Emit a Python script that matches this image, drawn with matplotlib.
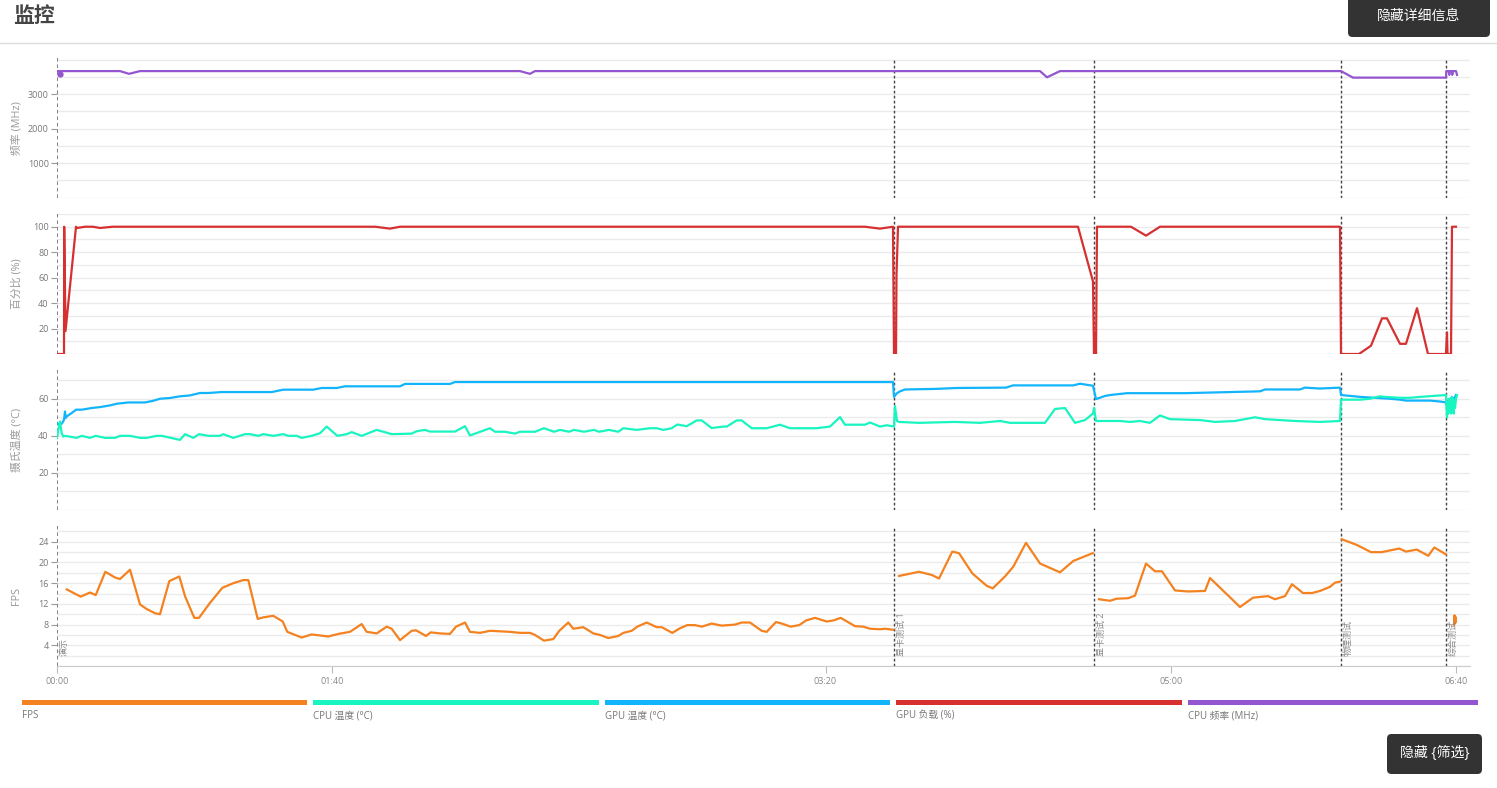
import numpy as np
import matplotlib
matplotlib.use("Agg")
import matplotlib.pyplot as plt
from matplotlib.patches import Rectangle, FancyBboxPatch
from matplotlib.transforms import blended_transform_factory

plt.rcParams['font.family'] = ['Open Sans', 'Noto Sans CJK SC', 'DejaVu Sans']

nan = np.nan

# ---------------- data (x = sample position along the run) ----------------
tick_pos = [0, 275, 768.5, 1114, 1399]
tick_labels = ["00:00", "01:40", "03:20", "05:00", "06:40"]

marker_x = [0, 837, 1037, 1284, 1389]
marker_labels = ["演示", "显卡测试 1", "显卡测试 2", "物理测试", "综合测试"]

freq_x = [0, 63, 72, 83, 463, 473, 478, 983, 990, 1003, 1284, 1296, 1389,
          1389.3, 1392, 1392.3, 1392.6, 1395, 1395.3, 1395.6, 1399, 1400]
freq_y = [3670, 3670, 3590, 3670, 3670, 3590, 3670, 3670, 3490, 3670, 3670, 3480, 3480,
          3670, 3670, 3560, 3670, 3670, 3560, 3670, 3670, 3560]
freq_start_x = [3]
freq_start_y = [3600]

load_x = [0, 7, 7.2, 8.5, 19, 20, 28, 36, 43, 49, 56, 318, 333, 343, 808, 823, 836,
          837, 839, 839.5, 841, 1021, 1036, 1037, 1038, 1038.5, 1039, 1040, 1074, 1089,
          1103, 1283, 1284, 1302, 1314, 1325, 1330, 1343, 1349, 1360, 1371, 1389, 1390,
          1390.5, 1394, 1395, 1399]
load_y = [0, 0, 100, 18, 100, 99, 100, 100, 99, 99.5, 100, 100, 98.5, 100, 100, 98.5, 100,
          0, 0, 62, 100, 100, 57, 0, 0, 15, 0, 100, 100, 93,
          100, 100, 0, 0, 6.5, 28, 28, 8, 8, 36, 0, 0, 17,
          0, 0, 100, 100]

gpu_t_x = [0, 4.7, 7, 8, 8.7, 9.7, 14.7, 19, 24.7, 34.7, 43, 53, 59.7, 71.3, 88, 96.3, 103,
           113, 123, 133, 143, 151.3, 164.7, 196, 214.7, 226.3, 256.3, 264.7, 279.7, 288,
           343, 348, 393, 398, 836, 837, 840, 843, 848, 878, 900, 949, 956, 1016, 1023,
           1036, 1039, 1048, 1053, 1070, 1128, 1203, 1208, 1243, 1248, 1263, 1283, 1284,
           1303, 1333, 1343, 1349, 1373, 1383, 1389, 1390, 1391, 1392, 1393, 1394, 1395,
           1396, 1397, 1399]
gpu_t_y = [46.5, 46.5, 48.6, 53.1, 49.6, 50.5, 52.3, 54.1, 54.1, 55, 55.5, 56.4, 57.3, 58,
           58, 58.9, 60, 60.4, 61.3, 61.8, 63.1, 63.1, 63.6, 63.6, 63.6, 64.9, 64.9, 65.8,
           65.8, 66.7, 66.7, 68, 68, 69, 69, 61, 63, 64, 65, 65.3, 65.8, 66, 67.2, 67.2,
           68.1, 67, 59.8, 61.5, 62, 63, 63, 64, 65, 65, 66, 65.5, 66, 62,
           61, 60, 59.5, 59, 59, 58.5, 58, 56, 59, 57, 60, 58, 61,
           59, 60, 62]

cpu_temp_points = [
    (0, 38.8), (1.3, 43.2), (3, 47.7), (4.7, 41.4), (6.3, 39.6), (8, 40), (19.7, 38.9),
    (24.7, 40), (33, 38.9), (38.7, 40), (48, 38.9), (58, 38.9), (63, 40), (73, 40),
    (83, 38.9), (89.7, 38.9), (99.7, 40), (104.7, 40), (123, 37.8), (128, 40.9),
    (136.3, 38.9), (142, 40.9), (151.3, 40), (163, 40), (166.3, 40.9), (176.3, 38.9),
    (188, 40.9), (193, 40.9), (201.3, 40), (206.3, 40.9), (216.3, 40), (226.3, 40.9),
    (231.3, 40), (239.7, 40), (244.7, 38.9), (254.7, 40), (263, 41.4), (269.7, 45),
    (280.3, 40), (289.7, 40.9), (294.7, 42), (304.7, 40), (319.7, 43.2), (334.7, 40.9),
    (354.7, 41.2), (359.7, 42.5), (368, 43.2), (373, 42.3), (398, 42.3), (408, 45.2),
    (413, 40.2), (433, 44.1), (438, 42.2), (448, 42.2), (458, 41.2), (463, 42.2),
    (478, 42.2), (487, 44.1), (497, 42.2), (503, 43.2), (512, 42.2), (517, 43.2),
    (527, 42.2), (537, 43.2), (542, 42.2), (552, 43.2), (561.3, 42.2), (566.3, 44.1),
    (579.7, 43.2), (593, 44.1), (599.7, 44.1), (606.3, 43.2), (614.7, 44.1),
    (620.3, 46.1), (629.7, 45.2), (639.7, 48.3), (644.7, 48.3), (654.7, 44.2),
    (666.3, 45), (669.7, 45), (679.7, 48.3), (684.7, 48.3), (694.7, 44.1), (709.7, 44.1),
    (723, 46), (733, 44.1), (759.7, 44.1), (773, 45), (783, 50.1), (788, 46), (808, 46),
    (813, 47.2), (823, 45), (829.7, 45.7), (837, 45),
    (838, 56), (840, 48), (842, 47.5), (862, 47), (898, 47.5), (923, 47), (943, 48),
    (953, 47), (988, 47), (998, 54.5), (1008, 55), (1018, 47), (1028, 48.5), (1036, 52),
    (1037, 55), (1039, 48), (1063, 48), (1073, 47.5), (1083, 48), (1093, 47),
    (1103, 51), (1113, 49), (1143, 48.5), (1158, 47.5), (1178, 48), (1198, 50),
    (1208, 49), (1223, 48.5), (1238, 48), (1263, 47.5), (1283, 48),
    (1284, 59.5), (1303, 59.5), (1313, 60), (1323, 61.3), (1328, 61), (1343, 60.5),
    (1353, 60.5), (1363, 61), (1389, 62),
    (1390, 50), (1390.7, 58), (1391.3, 52), (1392, 60), (1392.7, 53), (1393.3, 59),
    (1394, 52), (1394.7, 61), (1395.3, 54), (1396, 60), (1396.7, 52), (1397.3, 59),
    (1398, 55), (1399, 60), (1400, 62),
]

fps_x = [9.7, 23.7, 33, 38.7, 48.3, 58, 63, 73, 83, 89.7, 98, 103, 112.3, 122.3, 128, 137.3,
         142, 153, 165.3, 176.3, 186.3, 191.3, 200.7, 206.3, 216.3, 225.7, 230.3, 244.7,
         254.7, 263, 271.3, 281.3, 293, 304.7, 309.7, 319.7, 329.7, 334.7, 343, 354.7, 359,
         369, 373.7, 383, 393, 399, 408, 413, 423, 433, 443, 453, 463, 473, 478, 487, 496.3,
         502.3, 511.3, 516.3, 526.3, 536.3, 543, 551.3, 561.3, 566.3, 574.7, 580.3, 589.7,
         599.7, 604.7, 615.3, 623, 630.3, 638, 644.7, 654.7, 664.7, 678, 684.7, 693, 704.7,
         709.7, 719, 724.7, 733.7, 742.3, 749, 758, 769.7, 776.3, 783.7, 798, 806.3, 813,
         823, 828, 836.3, nan,
         842, 862, 874.7, 882, 895.3, 902, 915.3, 929.7, 935.7, 948, 956.3, 969, 983, 1003,
         1016.3, 1035.7, nan,
         1042, 1053, 1059.7, 1071.3, 1078, 1089, 1098, 1105, 1118, 1131, 1148, 1153, 1183,
         1196, 1211, 1218, 1228, 1235, 1246, 1255, 1263, 1273, 1278, 1283, nan,
         1284.7, 1299.7, 1314, 1324.7, 1342.3, 1349, 1359.7, 1371.3, 1377.3, 1388.7, nan,
         1397, 1397.5, 1398, 1398.5, 1399]
fps_y = [14.8, 13.4, 14.2, 13.7, 18.2, 17.1, 16.8, 18.6, 11.9, 11.0, 10.2, 10.0, 16.4, 17.3,
         13.5, 9.3, 9.3, 12.2, 15.1, 16.0, 16.6, 16.6, 9.1, 9.4, 9.7, 8.6, 6.6, 5.5, 6.1, 5.9,
         5.7, 6.2, 6.6, 8.1, 6.6, 6.3, 7.6, 7.2, 5.0, 6.8, 6.9, 5.8, 6.5, 6.3, 6.2, 7.6, 8.4,
         6.6, 6.4, 6.8, 6.7, 6.6, 6.4, 6.4, 6.0, 4.9, 5.2, 6.8, 8.4, 7.2, 7.5, 6.3, 6.0, 5.4,
         5.8, 6.4, 6.8, 7.6, 8.4, 7.5, 7.5, 6.4, 7.3, 7.9, 7.9, 7.6, 8.2, 7.8, 8.0, 8.4, 8.4,
         6.8, 6.6, 8.5, 8.2, 7.6, 7.9, 8.8, 9.3, 8.6, 8.8, 9.3, 7.7, 7.6, 7.2, 7.1, 7.2, 7.0,
         nan,
         17.4, 18.2, 17.6, 16.9, 22.1, 21.8, 17.9, 15.5, 15.0, 17.3, 19.2, 23.8, 19.8, 18.1,
         20.3, 21.8, nan,
         12.9, 12.6, 13.0, 13.1, 13.6, 19.8, 18.3, 18.3, 14.6, 14.4, 14.5, 17.0, 11.4, 13.2,
         13.5, 12.9, 13.5, 15.8, 14.1, 14.1, 14.5, 15.3, 16.1, 16.3, nan,
         24.5, 23.4, 22.0, 22.0, 22.7, 22.1, 22.5, 21.3, 22.9, 21.6, nan,
         8.0, 9.8, 8.2, 9.5, 8.6]

legend_labels = ["FPS", "CPU 温度 (°C)", "GPU 温度 (°C)", "GPU 负载 (%)", "CPU 频率 (MHz)"]

cpu_t_x = [p[0] for p in cpu_temp_points]
cpu_t_y = [p[1] for p in cpu_temp_points]

# ---------------- styles ----------------
C_FPS = "#f58220"
C_CPUT = "#19f5c0"
C_GPUT = "#12b4fc"
C_LOAD = "#d63031"
C_FREQ = "#9355d0"
legend_colors = [C_FPS, C_CPUT, C_GPUT, C_LOAD, C_FREQ]

W, H = 1497, 788
fig = plt.figure(figsize=(W / 100, H / 100), dpi=100)
fig.patch.set_facecolor("white")

def fx(px):
    return px / W

def fy(py):
    return 1 - py / H

left_px, right_px = 57, 1470
panels = [(58, 197.5), (214, 354), (370, 510), (526, 666)]
axes = []
for top, bot in panels:
    ax = fig.add_axes([fx(left_px), fy(bot), (right_px - left_px) / W, (bot - top) / H])
    axes.append(ax)

ylims = [(0, 4050), (0, 110), (0, 75.5), (0, 27.05)]
grid_steps = [(0, 4001, 500), (0, 111, 10), (0, 71, 10), (0, 27, 2)]
major_ticks = [[1000, 2000, 3000], [20, 40, 60, 80, 100], [20, 40, 60], [4, 8, 12, 16, 20, 24]]
ylabels = ["频率 (MHz)", "百分比 (%)", "摄氏温度 (°C)", "FPS"]

for i, ax in enumerate(axes):
    ax.set_xlim(0, right_px - left_px)
    ax.set_ylim(*ylims[i])
    for s in ax.spines.values():
        s.set_visible(False)
    a, b, st = grid_steps[i]
    for gv in np.arange(a, b, st):
        ax.axhline(gv, color="#ebebeb", lw=1, zorder=0)
    ax.set_yticks(major_ticks[i])
    ax.set_yticklabels([str(v) for v in major_ticks[i]])
    ax.tick_params(axis="y", length=4, width=0.8, color="#999999", labelsize=6.5,
                   labelcolor="#777777", pad=2)
    for k, mx in enumerate(marker_x):
        col = "#777777" if k == 0 else "#444444"
        ax.axvline(mx, color=col, lw=1.3 if k == 0 else 1.0, ls=(0, (2, 1.6)), zorder=1)
    top, bot = panels[i]
    fig.text(fx(17), fy((top + bot) / 2), ylabels[i], rotation=90, ha="center", va="center",
             fontsize=7.8, color="#999999")
    if i < 3:
        ax.set_xticks([])
    else:
        ax.spines["bottom"].set_visible(True)
        ax.spines["bottom"].set_color("#cccccc")
        ax.set_xticks(tick_pos)
        ax.set_xticklabels(tick_labels)
        ax.tick_params(axis="x", length=5, width=0.8, color="#bbbbbb", labelsize=6.5,
                       labelcolor="#888888", pad=3)

lw = 1.6
axes[0].plot(freq_x, freq_y, color=C_FREQ, lw=lw, zorder=3)
axes[0].plot(freq_start_x, freq_start_y, "o", color=C_FREQ, ms=3.5, zorder=3)
axes[1].plot(load_x, load_y, color=C_LOAD, lw=lw, zorder=3)
axes[2].plot(gpu_t_x, gpu_t_y, color=C_GPUT, lw=lw, zorder=3)
axes[2].plot(cpu_t_x, cpu_t_y, color=C_CPUT, lw=lw, zorder=4)
axes[3].plot(fps_x, fps_y, color=C_FPS, lw=lw, zorder=3)

trans = blended_transform_factory(axes[3].transData, axes[3].transAxes)
for mx, lab in zip(marker_x, marker_labels):
    axes[3].text(mx + 3, 0.07, lab, rotation=90, ha="left", va="bottom", fontsize=6.5,
                 color="#888888", transform=trans, zorder=5)

# title and header line
fig.text(fx(13), fy(16), "监控", fontsize=15, fontweight="bold", color="#444444",
         ha="left", va="center", family=["Noto Sans CJK SC"])
fig.add_artist(plt.Line2D([0, 1], [fy(43), fy(43)], color="#dddddd", lw=1,
                          transform=fig.transFigure))

# legend bars
bar_starts = [22, 313, 605, 896, 1188]
bar_ends = [307, 599, 890, 1182, 1478]
for xs, xe, col, lab in zip(bar_starts, bar_ends, legend_colors, legend_labels):
    fig.add_artist(Rectangle((fx(xs), fy(704.5)), (xe - xs) / W, 5 / H, color=col,
                             transform=fig.transFigure, lw=0))
    fig.text(fx(xs), fy(716), lab, fontsize=7, color="#777777", ha="left", va="center")

# buttons
def button(x0, y0, x1, y1, text, fs):
    fig.add_artist(FancyBboxPatch((fx(x0), fy(y1)), (x1 - x0) / W, (y1 - y0) / H,
                                  boxstyle="round,pad=0,rounding_size=0.003",
                                  transform=fig.transFigure, facecolor="#333333",
                                  edgecolor="none", mutation_aspect=W / H))
    fig.text(fx((x0 + x1) / 2), fy((y0 + y1) / 2), text, fontsize=fs, color="white",
             ha="center", va="center")

button(1348, -5, 1490, 37, "隐藏详细信息", 10)
button(1387, 734, 1482, 774, "隐藏 {筛选}", 10)

fig.savefig("out.png", dpi=100)
